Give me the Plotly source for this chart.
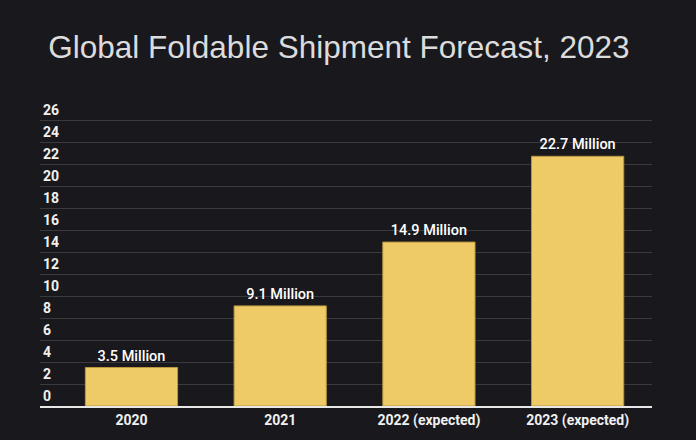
import plotly.graph_objects as go

categories = ["2020", "2021", "2022 (expected)", "2023 (expected)"]
shipments = [3.5, 9.1, 14.9, 22.7]
bar_labels = ["3.5 Million", "9.1 Million", "14.9 Million", "22.7 Million"]
y_ticks = list(range(0, 27, 2))

BG = "#19181d"

fig = go.Figure()
fig.add_trace(go.Bar(
    x=categories,
    y=shipments,
    text=bar_labels,
    textposition="outside",
    textfont=dict(family="Roboto", size=14.5, color="#ffffff", weight=500),
    marker=dict(color="#efcb68", line=dict(color="#b8973f", width=1)),
    width=0.62,
    cliponaxis=False,
    hoverinfo="skip",
))

fig.update_layout(
    width=696, height=440,
    paper_bgcolor=BG, plot_bgcolor=BG,
    margin=dict(l=40, r=44, t=98, b=34),
    showlegend=False,
    title=dict(
        text="Global Foldable Shipment Forecast, 2023",
        font=dict(family="Liberation Sans, Arial", size=31.5, color="#dcdcdc"),
        x=0.487, xanchor="center", y=0.893, yanchor="middle",
    ),
    xaxis=dict(
        type="category",
        range=[-0.615, 3.5],
        showgrid=False,
        showline=True, linecolor="#e8e8e8", linewidth=2,
        ticks="",
        tickfont=dict(family="Roboto", size=14, color="#f0f0f0", weight=700),
    ),
    yaxis=dict(
        range=[0, 28],
        tickvals=y_ticks,
        ticktext=[str(v) for v in y_ticks],
        ticklabelposition="inside top",
        showgrid=True, gridcolor="#3a393e", gridwidth=1,
        zeroline=False,
        showline=False,
        ticks="",
        tickfont=dict(family="Roboto", size=14, color="#f0f0f0", weight=700),
    ),
    bargap=0.38,
)

fig.write_html("out.html")
